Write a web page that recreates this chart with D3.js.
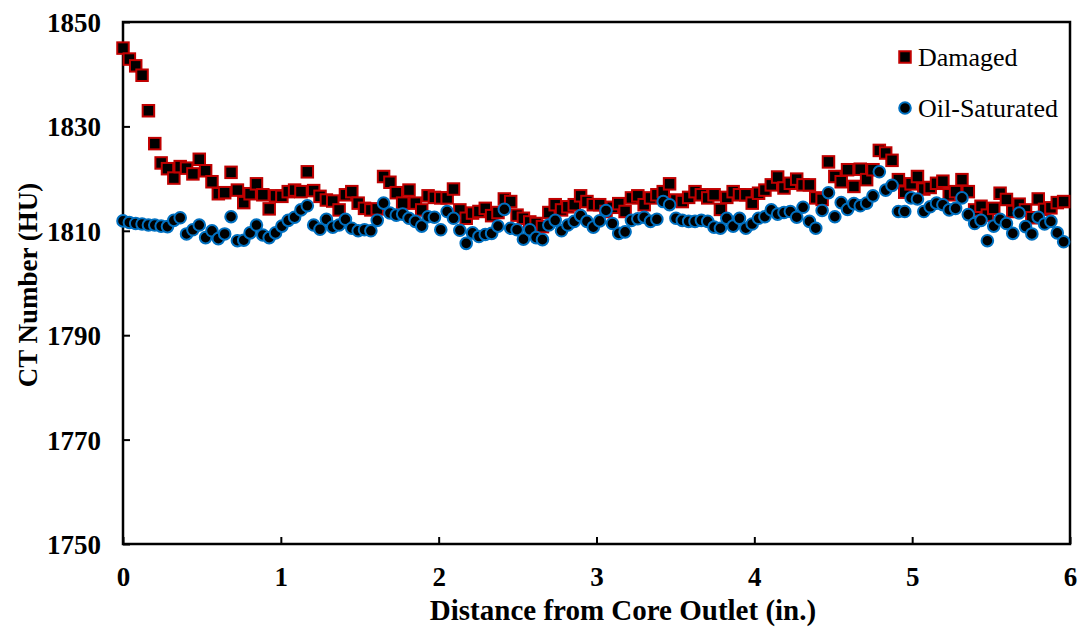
<!DOCTYPE html>
<html>
<head>
<meta charset="utf-8">
<script src="https://cdn.jsdelivr.net/npm/d3@7"></script>
<style>
  body { margin: 0; background: #fff; }
  svg { display: block; }
  text { font-family: "Liberation Serif", "Times New Roman", serif; }
</style>
</head>
<body>
<svg id="chart" width="1081" height="630"></svg>
<script>
// CT slice spacing along the core (in.)
const sliceSpacing = 6 / 149;

// CT number (HU) per slice, from the core outlet
const damaged = [
  1845.0, 1842.9, 1841.6, 1839.8, 1833.0, 1826.7, 1823.0, 1821.9, 1820.1, 1822.3,
  1822.0, 1820.9, 1823.7, 1821.5, 1819.4, 1817.1, 1817.3, 1821.2, 1817.8, 1815.4,
  1817.1, 1819.0, 1816.9, 1814.2, 1816.7, 1816.6, 1817.5, 1817.8, 1817.5, 1821.3,
  1817.7, 1816.6, 1815.9, 1815.7, 1814.0, 1816.9, 1817.5, 1815.3, 1814.3, 1814.0,
  1814.2, 1820.4, 1819.3, 1817.3, 1815.3, 1817.8, 1815.3, 1814.0, 1816.7, 1816.4,
  1816.3, 1816.3, 1818.0, 1814.0, 1812.4, 1813.4, 1813.7, 1814.3, 1812.9, 1813.5,
  1816.1, 1815.6, 1813.0, 1812.4, 1811.7, 1811.4, 1810.8, 1813.5, 1815.0, 1814.0,
  1814.6, 1815.0, 1816.7, 1815.6, 1815.0, 1815.0, 1813.7, 1814.5, 1815.2, 1813.7,
  1816.3, 1816.7, 1815.0, 1816.3, 1816.9, 1817.5, 1819.0, 1815.9, 1815.6, 1816.4,
  1817.5, 1816.9, 1816.3, 1816.9, 1814.1, 1816.4, 1817.5, 1816.9, 1816.9, 1815.3,
  1817.2, 1817.8, 1818.8, 1820.3, 1818.2, 1819.1, 1819.9, 1818.8, 1818.8, 1816.3,
  1816.0, 1823.2, 1820.4, 1819.4, 1821.7, 1818.5, 1821.8, 1819.8, 1821.7, 1825.4,
  1824.9, 1823.5, 1819.8, 1817.4, 1819.0, 1820.4, 1818.0, 1818.3, 1819.1, 1819.5,
  1816.9, 1817.5, 1819.8, 1817.5, 1814.0, 1814.7, 1813.0, 1814.3, 1817.2, 1816.0,
  1813.7, 1815.1, 1814.0, 1812.5, 1816.1, 1814.1, 1814.4, 1815.4, 1815.6
];

const oilSaturated = [
  1811.9, 1811.6, 1811.4, 1811.3, 1811.1, 1811.1, 1810.9, 1810.8, 1812.0, 1812.5,
  1809.4, 1810.2, 1811.1, 1808.7, 1810.0, 1808.5, 1809.4, 1812.7, 1808.1, 1808.2,
  1809.6, 1811.1, 1809.2, 1808.7, 1809.6, 1810.9, 1812.0, 1812.6, 1814.0, 1814.8,
  1811.1, 1810.3, 1812.2, 1810.7, 1811.1, 1812.2, 1810.5, 1810.0, 1810.2, 1810.0,
  1812.0, 1815.3, 1813.4, 1813.0, 1813.2, 1812.4, 1811.8, 1810.9, 1812.7, 1812.6,
  1810.2, 1813.7, 1812.4, 1810.1, 1807.6, 1809.6, 1808.9, 1809.3, 1809.5, 1810.9,
  1814.1, 1810.5, 1810.2, 1808.4, 1810.2, 1808.7, 1808.3, 1811.1, 1812.0, 1810.0,
  1811.1, 1811.8, 1812.9, 1811.8, 1810.7, 1811.9, 1813.9, 1811.4, 1809.5, 1809.8,
  1812.0, 1812.3, 1812.6, 1811.8, 1812.2, 1815.6, 1815.0, 1812.4, 1812.0, 1811.8,
  1811.8, 1812.0, 1811.8, 1810.7, 1810.5, 1812.4, 1810.9, 1812.4, 1810.5, 1811.3,
  1812.4, 1812.7, 1814.0, 1813.2, 1813.5, 1813.7, 1812.6, 1814.5, 1811.8, 1810.5,
  1813.9, 1817.3, 1812.7, 1815.4, 1814.1, 1815.2, 1814.8, 1815.3, 1816.7, 1821.3,
  1817.8, 1818.7, 1813.7, 1813.7, 1816.3, 1816.1, 1813.7, 1814.6, 1815.3, 1815.0,
  1814.0, 1814.3, 1816.3, 1813.1, 1811.4, 1812.0, 1808.1, 1810.9, 1812.2, 1811.4,
  1809.5, 1813.4, 1810.8, 1809.4, 1812.6, 1811.3, 1811.8, 1809.6, 1807.9
];

const xTicks = [0, 1, 2, 3, 4, 5, 6];
const yTicks = [1750, 1770, 1790, 1810, 1830, 1850];
const seriesNames = ["Damaged", "Oil-Saturated"];
const xTitle = "Distance from Core Outlet (in.)";
const yTitle = "CT Number (HU)";

const serif = '"Liberation Serif", "Times New Roman", serif';
const svg = d3.select("#chart");
const plot = { left: 123, right: 1070, top: 22, bottom: 544 };

const x = d3.scaleLinear().domain([0, 6]).range([plot.left, plot.right]);
const y = d3.scaleLinear().domain([1750, 1850]).range([plot.bottom, plot.top]);

const toPoints = vals => vals.map((v, i) => ({ d: i * sliceSpacing, v }));

// Axes with inward ticks
const xAxis = svg.append("g")
  .attr("transform", `translate(0,${plot.bottom})`)
  .call(d3.axisBottom(x).tickValues(xTicks).tickFormat(d3.format("d"))
    .tickSize(-7).tickSizeOuter(0).tickPadding(23));
const yAxis = svg.append("g")
  .attr("transform", `translate(${plot.left},0)`)
  .call(d3.axisLeft(y).tickValues(yTicks).tickFormat(d3.format("d"))
    .tickSize(-7).tickSizeOuter(0).tickPadding(22));

[xAxis, yAxis].forEach(g => {
  g.select(".domain").remove();
  g.selectAll(".tick line").attr("stroke", "#000").attr("stroke-width", 2);
  g.selectAll(".tick text")
    .attr("fill", "#000")
    .attr("font-family", serif)
    .style("font-size", "27px")
    .style("font-weight", "bold");
});
yAxis.selectAll(".tick text").attr("dy", "0.35em");

// Plot frame
svg.append("rect")
  .attr("x", plot.left).attr("y", plot.top)
  .attr("width", plot.right - plot.left).attr("height", plot.bottom - plot.top)
  .attr("fill", "none").attr("stroke", "#000").attr("stroke-width", 2.5);

// Damaged: black squares with red outline
const sq = 11.5;
svg.append("g").selectAll("rect")
  .data(toPoints(damaged))
  .join("rect")
  .attr("x", p => x(p.d) - sq / 2)
  .attr("y", p => y(p.v) - sq / 2)
  .attr("width", sq).attr("height", sq)
  .attr("fill", "#000").attr("stroke", "#c00000").attr("stroke-width", 2);

// Oil-saturated: black circles with blue outline
svg.append("g").selectAll("circle")
  .data(toPoints(oilSaturated))
  .join("circle")
  .attr("cx", p => x(p.d))
  .attr("cy", p => y(p.v))
  .attr("r", 5.8)
  .attr("fill", "#000").attr("stroke", "#0070c0").attr("stroke-width", 2);

// Axis titles
svg.append("text")
  .attr("x", 623).attr("y", 620)
  .attr("text-anchor", "middle")
  .attr("font-family", serif)
  .style("font-size", "29px").style("font-weight", "bold")
  .text(xTitle);
svg.append("text")
  .attr("transform", "translate(37,285) rotate(-90)")
  .attr("text-anchor", "middle")
  .attr("font-family", serif)
  .style("font-size", "27px").style("font-weight", "bold")
  .text(yTitle);

// Legend
const legend = svg.append("g");
legend.append("rect")
  .attr("x", 905 - sq / 2).attr("y", 57 - sq / 2)
  .attr("width", sq).attr("height", sq)
  .attr("fill", "#000").attr("stroke", "#c00000").attr("stroke-width", 2);
legend.append("circle")
  .attr("cx", 905).attr("cy", 108).attr("r", 5.8)
  .attr("fill", "#000").attr("stroke", "#0070c0").attr("stroke-width", 2);
legend.selectAll("text.lbl")
  .data(seriesNames)
  .join("text")
  .attr("class", "lbl")
  .attr("x", 918)
  .attr("y", (d, i) => 66 + i * 51)
  .attr("font-family", serif)
  .style("font-size", "26px")
  .text(d => d);
</script>
</body>
</html>
